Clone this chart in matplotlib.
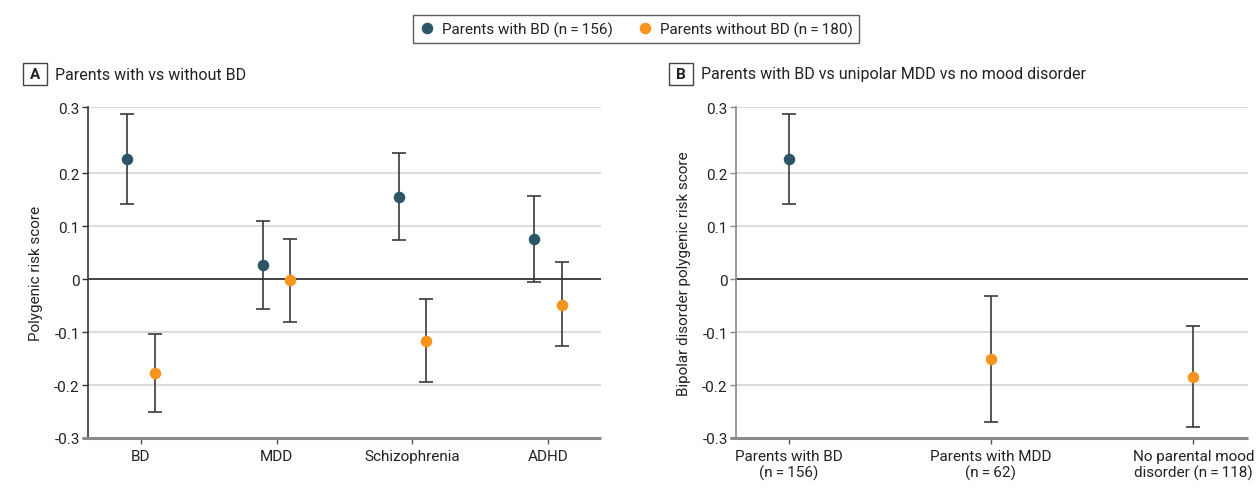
import matplotlib
matplotlib.use("Agg")
import matplotlib.pyplot as plt
from matplotlib.lines import Line2D
from matplotlib.patches import Rectangle
import numpy as np

plt.rcParams['font.family'] = ['Liberation Sans Narrow', 'Roboto', 'DejaVu Sans']

# ---------------- data ----------------
groups_a = ['BD', 'MDD', 'Schizophrenia', 'ADHD']
with_bd_mean = [0.227, 0.026, 0.155, 0.076]
with_bd_lo = [0.142, -0.057, 0.073, -0.006]
with_bd_hi = [0.311, 0.109, 0.238, 0.157]
without_bd_mean = [-0.177, -0.001, -0.116, -0.048]
without_bd_lo = [-0.250, -0.081, -0.194, -0.127]
without_bd_hi = [-0.103, 0.075, -0.037, 0.033]

groups_b = ['Parents with BD\n(n\u2009=\u2009156)', 'Parents with MDD\n(n\u2009=\u200962)',
            'No parental mood\ndisorder (n\u2009=\u2009118)']
b_mean = [0.227, -0.151, -0.184]
b_lo = [0.142, -0.270, -0.279]
b_hi = [0.311, -0.032, -0.089]
b_group_is_bd = [True, False, False]

y_tick_values = [-0.3, -0.2, -0.1, 0.0, 0.1, 0.2, 0.3245]
y_tick_labels = ['-0.3', '-0.2', '-0.1', '0', '0.1', '0.2', '0.3']

legend_labels = ['Parents with BD (n\u2009=\u2009156)', 'Parents without BD (n\u2009=\u2009180)']

# ---------------- style ----------------
BLUE = '#2c5565'
ORANGE = '#f7941d'
ERR = '#3a3a3a'
GRID = '#dcdcdc'
FS = 11

W, H = 1260, 502
fig = plt.figure(figsize=(W / 100, H / 100), dpi=100)

def px_axes(l, r, t, b):
    return fig.add_axes([l / W, 1 - b / H, (r - l) / W, (b - t) / H])

axA = px_axes(88, 601, 108.3, 439)
axB = px_axes(736, 1248, 108.3, 439)

def style_axis(ax, spine_color):
    ax.set_ylim(y_tick_values[0], y_tick_values[-1])
    for s in ['top', 'right', 'bottom']:
        ax.spines[s].set_visible(False)
    ax.spines['left'].set_color(spine_color)
    ax.spines['left'].set_linewidth(1.2)
    ax.set_yticks(y_tick_values)
    ax.set_yticklabels(y_tick_labels, fontsize=FS, color='#222222')
    ax.tick_params(axis='y', length=4, width=1, color=spine_color, pad=2)
    ax.tick_params(axis='x', length=4, width=1, color='#555555', pad=4,
                   labelsize=FS, labelcolor='#222222')
    for v in y_tick_values[1:]:
        if v != 0:
            ax.axhline(v, color=GRID, lw=1.5, zorder=0)
    ax.axhline(0, color='#222222', lw=1.2, zorder=1)
    ax.plot([-0.012, 1], [0, 0], transform=ax.transAxes, clip_on=False,
            color='#8a8a8a', lw=2.2, zorder=3, solid_capstyle='butt')

def draw_err(ax, x, m, lo, hi, color):
    ax.errorbar([x], [m], yerr=[[m - lo], [hi - m]], fmt='none',
                ecolor=ERR, elinewidth=1.2, capsize=4.8, capthick=1.2, zorder=3)
    ax.plot([x], [m], 'o', color=color, markersize=8.3, markeredgewidth=0, zorder=4)

# Panel A
style_axis(axA, '#333333')
xa = np.arange(len(groups_a))
off = 0.1
for i in range(len(groups_a)):
    draw_err(axA, xa[i] - off, with_bd_mean[i], with_bd_lo[i], with_bd_hi[i], BLUE)
    draw_err(axA, xa[i] + off, without_bd_mean[i], without_bd_lo[i], without_bd_hi[i], ORANGE)
axA.set_xlim(-0.39, len(groups_a) - 1 + 0.39)
axA.set_xticks(xa)
axA.set_xticklabels(groups_a)
axA.set_ylabel('Polygenic risk score', fontsize=FS, color='#222222', labelpad=8)

# Panel B
style_axis(axB, '#888888')
xb = np.arange(len(groups_b))
for i in range(len(groups_b)):
    draw_err(axB, xb[i], b_mean[i], b_lo[i], b_hi[i], BLUE if b_group_is_bd[i] else ORANGE)
axB.set_xlim(-0.26, len(groups_b) - 1 + 0.27)
axB.set_xticks(xb)
axB.set_xticklabels(groups_b, linespacing=1.15)
axB.set_ylabel('Bipolar disorder polygenic risk score', fontsize=FS, color='#222222', labelpad=8)

# Panel labels
def panel_label(x0, letter, title):
    bx, by, bw, bh = x0, 64, 24, 22
    fig.patches.append(Rectangle((bx / W, 1 - (by + bh) / H), bw / W, bh / H,
                                 transform=fig.transFigure, fill=False,
                                 edgecolor='#444444', lw=1))
    fig.text((bx + bw / 2) / W, 1 - (by + bh / 2) / H, letter, ha='center', va='center',
             fontsize=FS, fontweight='bold', color='#222222')
    fig.text((bx + bw + 8) / W, 1 - (by + bh / 2) / H, title, ha='left', va='center',
             fontsize=FS + 0.5, color='#222222')

panel_label(23, 'A', 'Parents with vs without BD')
panel_label(669, 'B', 'Parents with BD vs unipolar MDD vs no mood disorder')

# Legend
handles = [Line2D([], [], marker='o', ls='none', color=BLUE, markersize=8.3, markeredgewidth=0),
           Line2D([], [], marker='o', ls='none', color=ORANGE, markersize=8.3, markeredgewidth=0)]
leg = fig.legend(handles, legend_labels, loc='center', bbox_to_anchor=(636 / W, 1 - 30 / H),
                 ncol=2, frameon=True, fancybox=False, fontsize=FS,
                 handletextpad=0.5, columnspacing=1.6, borderpad=0.4, handlelength=1.0)
leg.get_frame().set_edgecolor('#333333')
leg.get_frame().set_linewidth(1.0)
for t in leg.get_texts():
    t.set_color('#222222')

fig.savefig('out.png', dpi=100)
